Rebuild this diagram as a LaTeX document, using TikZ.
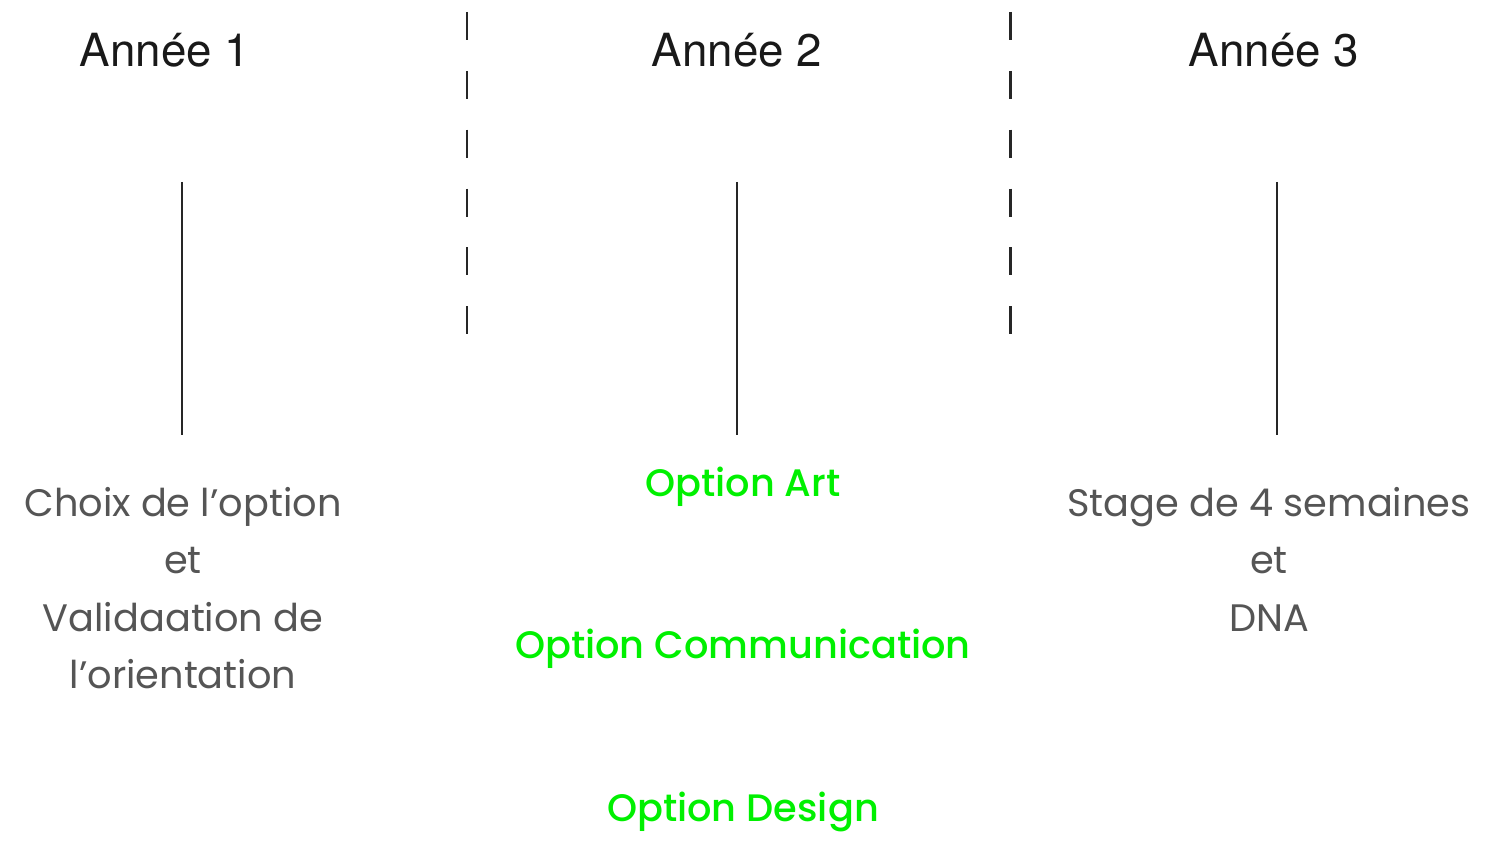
\documentclass[tikz,border=0pt]{standalone}
\usepackage{fontspec}
\setmainfont{Poppins}
\newfontfamily\headfont{TeX Gyre Heros}
\newfontfamily\optfont{Poppins Medium}
\usepackage{tikz}
\usetikzlibrary{calc}
\usepackage{xcolor}
\definecolor{optgreen}{RGB}{0,240,0}
\definecolor{txtgray}{RGB}{85,85,85}
\tikzset{
  annee/.style={font=\headfont\fontsize{26pt}{32pt}\selectfont, text=black!90, inner sep=0pt},
  descr/.style={font=\fontsize{21.8pt}{32.7pt}\selectfont, text=txtgray, align=center, inner sep=0pt},
  option/.style={font=\optfont\fontsize{21.8pt}{30pt}\selectfont, text=optgreen, inner sep=0pt},
  tick/.style={line width=1.4pt, black!85},
  sep/.style={line width=1.7pt, black!85, dash pattern=on 15.9pt off 17.6pt}
}
\begin{document}
\begin{tikzpicture}[x=0.02cm,y=-0.02cm]
    \useasboundingbox (0,0) rectangle (1494,844);

    \node[annee] (a1) at (165,50) {Année 1};
    \node[annee] (a2) at (737,50) {Année 2};
    \node[annee] (a3) at (1274,50) {Année 3};

    \coordinate (s1t) at (467,12);
    \coordinate (s1b) at (467,340);
    \coordinate (s2t) at (1010,12);
    \coordinate (s2b) at (1010,340);
    \draw[sep] (s1t) -- (s1b);
    \draw[sep] (s2t) -- (s2b);

    \foreach \n/\x in {1/182,2/737,3/1277}{
      \coordinate (t\n) at (\x,182);
      \coordinate (b\n) at (\x,435);
      \draw[tick] (t\n) -- (b\n);
    }

    \node[descr] (d1) at (183,588) {Choix de l’option\\et\\Validaation de\\l’orientation};
    \node[descr] (d3) at (1269,559) {Stage de 4 semaines\\et\\DNA};

    \node[option] (o1) at (743,487) {Option Art};
    \node[option] (o2) at (743,649) {Option Communication};
    \node[option] (o3) at (743,812) {Option Design};
\end{tikzpicture}
\end{document}
